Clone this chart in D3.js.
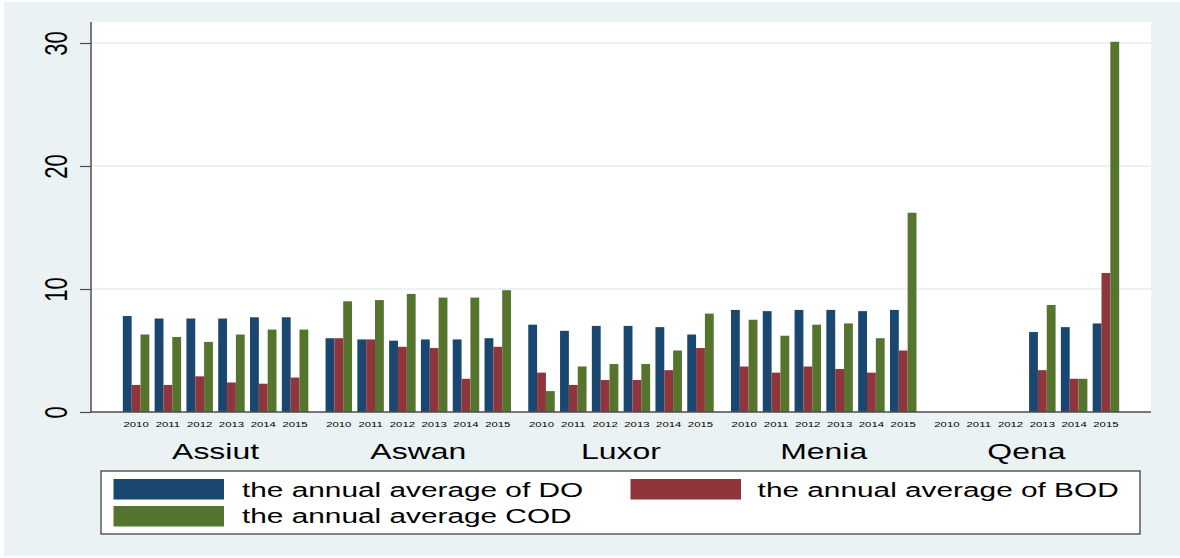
<!DOCTYPE html>
<html>
<head>
<meta charset="utf-8">
<script src="https://cdn.jsdelivr.net/npm/d3@7"></script>
<style>
  html, body { margin: 0; padding: 0; background: #ffffff; }
  svg { display: block; }
  text { font-family: "Liberation Sans", Arial, Helvetica, sans-serif; fill: #000; }
</style>
</head>
<body>
<svg id="chart" width="1180" height="558"></svg>
<script>
// ---------------- data ----------------
const cities = ["Assiut", "Aswan", "Luxor", "Menia", "Qena"];
const years = ["2010", "2011", "2012", "2013", "2014", "2015"];
const seriesNames = ["the annual average of DO", "the annual average of BOD", "the annual average COD"];
const doValues = [
  [7.8, 7.6, 7.6, 7.6, 7.7, 7.7],
  [6.0, 5.9, 5.8, 5.9, 5.9, 6.0],
  [7.1, 6.6, 7.0, 7.0, 6.9, 6.3],
  [8.3, 8.2, 8.3, 8.3, 8.2, 8.3],
  [null, null, null, 6.5, 6.9, 7.2]
];
const bodValues = [
  [2.2, 2.2, 2.9, 2.4, 2.3, 2.8],
  [6.0, 5.9, 5.3, 5.2, 2.7, 5.3],
  [3.2, 2.2, 2.6, 2.6, 3.4, 5.2],
  [3.7, 3.2, 3.7, 3.5, 3.2, 5.0],
  [null, null, null, 3.4, 2.7, 11.3]
];
const codValues = [
  [6.3, 6.1, 5.7, 6.3, 6.7, 6.7],
  [9.0, 9.1, 9.6, 9.3, 9.3, 9.9],
  [1.7, 3.7, 3.9, 3.9, 5.0, 8.0],
  [7.5, 6.2, 7.1, 7.2, 6.0, 16.2],
  [null, null, null, 8.7, 2.7, 30.1]
];
const yTicks = [0, 10, 20, 30];
const colors = ["#1a476f", "#90353b", "#55752f"];

// ---------------- layout ----------------
const W = 1180, H = 558;
const plot = { left: 91, right: 1151, top: 22, bottom: 412 };
const SX = 1.42; // horizontal text stretch seen in the reference
const bg = "#eaf2f3";

const svg = d3.select("#chart");

svg.append("rect").attr("x", 4).attr("y", 2).attr("width", W - 4).attr("height", H - 4).attr("fill", bg);
svg.append("rect").attr("x", plot.left).attr("y", plot.top)
  .attr("width", plot.right - plot.left).attr("height", plot.bottom - plot.top).attr("fill", "#ffffff");

// scales
const x0 = d3.scaleBand().domain(cities).range([plot.left, plot.right]).paddingInner(0.085).paddingOuter(0.157);
const x1 = d3.scaleBand().domain(years).range([0, x0.bandwidth()]).paddingInner(1 / 6).paddingOuter(0);
const x2 = d3.scaleBand().domain([0, 1, 2]).range([0, x1.bandwidth()]).padding(0);
const y = d3.scaleLinear().domain([0, 30]).range([plot.bottom, 43]);

// gridlines
svg.append("g").selectAll("line").data(yTicks.filter(t => t > 0)).join("line")
  .attr("x1", plot.left).attr("x2", plot.right)
  .attr("y1", d => y(d)).attr("y2", d => y(d))
  .attr("stroke", bg).attr("stroke-width", 2);

// bars
const rows = [];
cities.forEach((c, ci) => {
  years.forEach((yr, yi) => {
    [doValues, bodValues, codValues].forEach((arr, si) => {
      const v = arr[ci][yi];
      if (v !== null && v !== undefined) rows.push({ c, yr, si, v });
    });
  });
});
svg.append("g").selectAll("rect").data(rows).join("rect")
  .attr("x", d => x0(d.c) + x1(d.yr) + x2(d.si))
  .attr("width", x2.bandwidth())
  .attr("y", d => y(d.v))
  .attr("height", d => y(0) - y(d.v))
  .attr("fill", d => colors[d.si]);

// y axis
const yAxis = d3.axisLeft(y).tickValues(yTicks).tickSize(11).tickFormat(d3.format("d"));
const gy = svg.append("g").attr("transform", `translate(${plot.left},0)`).call(yAxis);
gy.select(".domain").attr("d", `M0,${plot.top}V${plot.bottom}`).attr("stroke", "#4d4d4d").attr("stroke-width", 1.5);
gy.selectAll(".tick line").attr("stroke", "#4d4d4d").attr("stroke-width", 1.2);
gy.selectAll(".tick text")
  .attr("x", null).attr("dy", null)
  .attr("text-anchor", "middle")
  .attr("font-size", 22)
  .attr("fill", "#000")
  .attr("transform", `translate(-24,0) scale(${SX},1) rotate(-90)`);

// x baseline
svg.append("line").attr("x1", plot.left).attr("x2", plot.right)
  .attr("y1", plot.bottom).attr("y2", plot.bottom)
  .attr("stroke", "#4d4d4d").attr("stroke-width", 1.5);

// year labels
const yearLabels = [];
cities.forEach(c => years.forEach(yr => yearLabels.push({ c, yr })));
svg.append("g").selectAll("text").data(yearLabels).join("text")
  .attr("transform", d => `translate(${x0(d.c) + x1(d.yr) + x1.bandwidth() / 2},427) scale(${SX},1)`)
  .attr("text-anchor", "middle").attr("font-size", 8).attr("fill", "#222")
  .text(d => d.yr);

// city labels
svg.append("g").selectAll("text").data(cities).join("text")
  .attr("transform", d => `translate(${x0(d) + x0.bandwidth() / 2},459) scale(${SX},1)`)
  .attr("text-anchor", "middle").attr("font-size", 22.5)
  .text(d => d);

// legend
const lg = svg.append("g");
lg.append("rect").attr("x", 101).attr("y", 471).attr("width", 1039).attr("height", 63)
  .attr("fill", "#ffffff").attr("stroke", "#333").attr("stroke-width", 1.2);
const legendPos = [
  { kx: 113.5, ky: 479, tx: 242, ty: 497.3 },
  { kx: 630.5, ky: 479, tx: 757.6, ty: 497.3 },
  { kx: 113.5, ky: 506, tx: 242, ty: 523.3 }
];
seriesNames.forEach((name, i) => {
  const p = legendPos[i];
  lg.append("rect").attr("x", p.kx).attr("y", p.ky).attr("width", 110.5).attr("height", 20.5).attr("fill", colors[i]);
  lg.append("text").attr("transform", `translate(${p.tx},${p.ty}) scale(${SX},1)`)
    .attr("font-size", 21).text(name);
});
</script>
</body>
</html>
